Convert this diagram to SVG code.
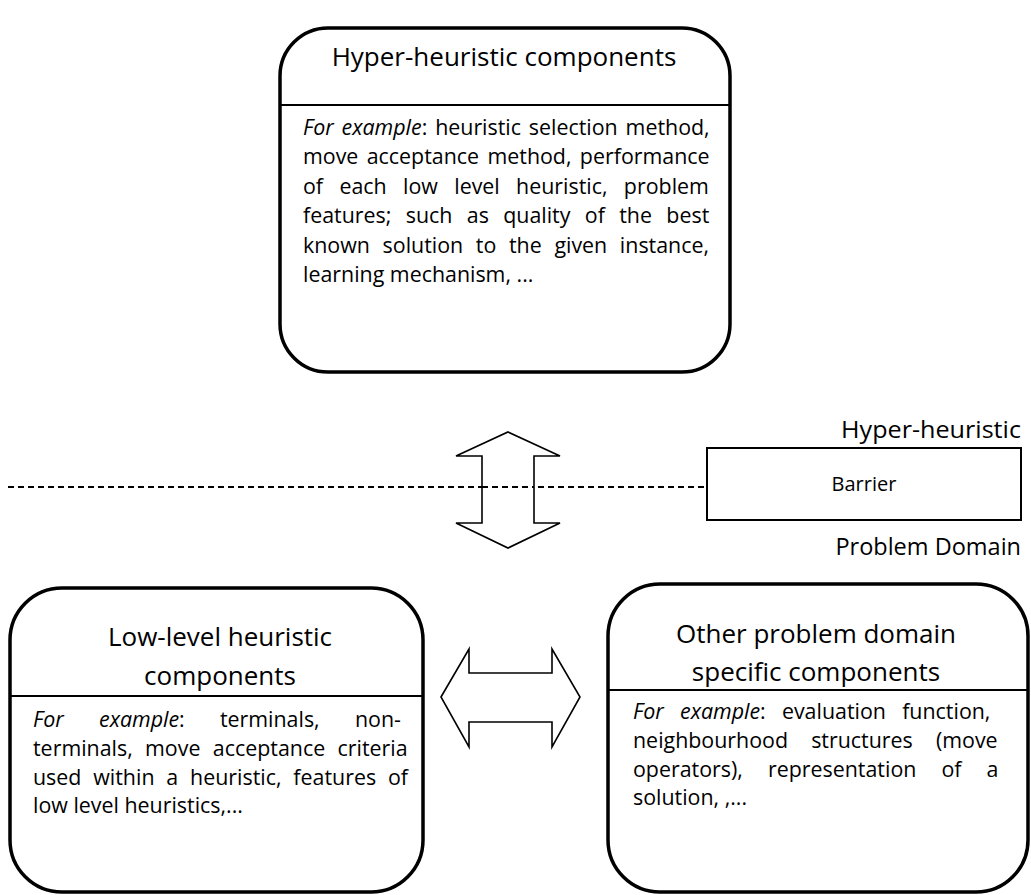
<svg xmlns="http://www.w3.org/2000/svg" width="1031" height="895" viewBox="0 0 1031 895">
<style>
.box{fill:#fff;stroke:#000;stroke-width:3.5}
.div{stroke:#000;stroke-width:2}
.t{font-family:"Open Sans","Noto Sans",sans-serif;fill:#000}
.title{font-size:26px;text-anchor:middle}
.body{font-size:21.4px}
.it{font-style:italic}
.lbl{font-size:23.5px;text-anchor:end}
.arrow{fill:#fff;stroke:#000;stroke-width:1.6;stroke-linejoin:miter}
</style>
<rect width="1031" height="895" fill="#fff"/>
<g id="connectors">
<line x1="8" y1="487" x2="706" y2="487" stroke="#000" stroke-width="2" stroke-dasharray="6,4"/>
<path class="arrow" d="M508,432 L560,456 L534,456 L534,523 L560,523 L508,548 L456,523 L482,523 L482,456 L456,456 Z"/>
<line x1="482" y1="487" x2="534" y2="487" stroke="#000" stroke-width="2" stroke-dasharray="6,4"/>
<path class="arrow" d="M441,697 L469,649 L469,673 L552,673 L552,649 L580,697 L552,747 L552,722 L469,722 L469,747 Z"/>
</g>
<g id="hyper-heuristic-components">
<rect class="box" x="280" y="28" width="450" height="344" rx="48" ry="48"/>
<line class="div" x1="280" y1="105" x2="730" y2="105"/>
<text class="t title" x="504" y="66" font-size="25.8">Hyper-heuristic components</text>
<text class="t body" x="303" y="135" word-spacing="2.3"><tspan class="it">For example</tspan>: heuristic selection method,</text>
<text class="t body" x="303" y="164" word-spacing="2.8">move acceptance method, performance</text>
<text class="t body" x="303" y="194" word-spacing="10.8">of each low level heuristic, problem</text>
<text class="t body" x="303" y="223" word-spacing="8.8">features; such as quality of the best</text>
<text class="t body" x="303" y="253" word-spacing="7.1">known solution to the given instance,</text>
<text class="t body" x="303" y="282">learning mechanism, ...</text>
</g>
<g id="barrier">
<rect x="707" y="448" width="314" height="72" fill="#fff" stroke="#000" stroke-width="2"/>
<text class="t" x="864" y="491" font-size="20" text-anchor="middle">Barrier</text>
<text class="t lbl" x="1021" y="438" textLength="180" lengthAdjust="spacingAndGlyphs">Hyper-heuristic</text>
<text class="t lbl" x="1021" y="555">Problem Domain</text>
</g>
<g id="low-level-heuristic-components">
<rect class="box" x="10" y="588" width="413" height="304" rx="52" ry="52"/>
<line class="div" x1="10" y1="696" x2="423" y2="696"/>
<text class="t title" x="220" y="646">Low-level heuristic</text>
<text class="t title" x="220" y="685">components</text>
<text class="t body" x="33" y="727" word-spacing="29.7"><tspan class="it">For example</tspan>: terminals, non-</text>
<text class="t body" x="33" y="756" word-spacing="6.8">terminals, move acceptance criteria</text>
<text class="t body" x="33" y="785" word-spacing="6.3">used within a heuristic, features of</text>
<text class="t body" x="33" y="813">low level heuristics,...</text>
</g>
<g id="other-problem-domain-components">
<rect class="box" x="608" y="584" width="420" height="308" rx="52" ry="52"/>
<line class="div" x1="608" y1="690" x2="1028" y2="690"/>
<text class="t title" x="816" y="643">Other problem domain</text>
<text class="t title" x="816" y="681">specific components</text>
<text class="t body" x="633" y="719" word-spacing="10.7"><tspan class="it">For example</tspan>: evaluation function,</text>
<text class="t body" x="633" y="748" word-spacing="17.6">neighbourhood structures (move</text>
<text class="t body" x="633" y="777" word-spacing="19.5">operators), representation of a</text>
<text class="t body" x="633" y="805">solution, ,...</text>
</g>
</svg>
